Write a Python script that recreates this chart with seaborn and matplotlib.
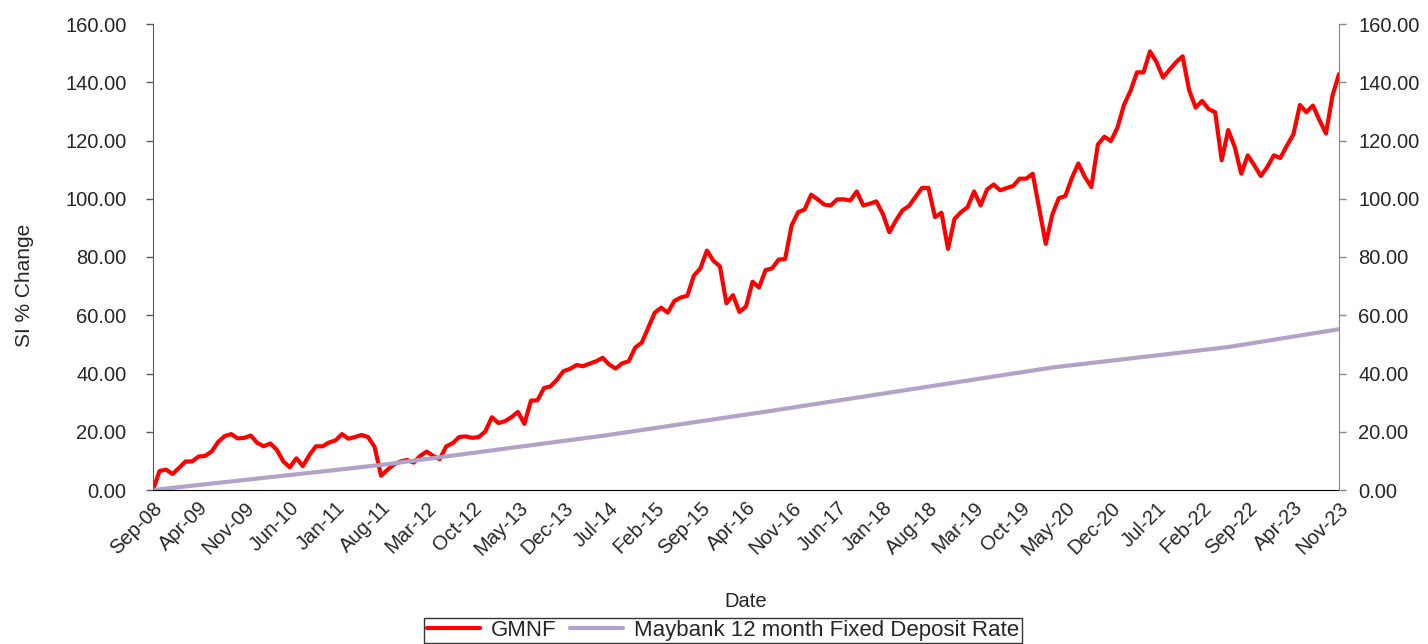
import numpy as np
import pandas as pd
import seaborn as sns
import matplotlib.pyplot as plt

# monthly observations, Sep-08 .. Nov-23
months = pd.date_range('2008-09-01', '2023-11-01', freq='MS')

gmnf = [0.0, 6.5, 7.0, 5.5, 7.6, 9.8, 9.8, 11.5, 11.7, 13.2, 16.5, 18.5, 19.2, 17.7, 17.9, 18.7,
        16.2, 15.0, 16.0, 13.8, 9.8, 7.8, 10.9, 8.2, 12.0, 15.0, 15.0, 16.3, 17.0, 19.2, 17.6,
        18.2, 18.9, 18.2, 14.8, 4.9,
        7.0, 8.8, 9.8, 10.3, 9.4, 11.7, 13.2, 11.7, 10.6, 15.0, 16.1, 18.2, 18.4, 17.9, 18.2,
        20.1, 25.0, 23.0, 23.6, 25.0, 26.8, 22.7, 30.7, 30.8, 35.0, 35.6, 37.9, 40.8, 41.6,
        42.9, 42.5, 43.4, 44.2, 45.4, 43.1, 41.7,
        43.5, 44.2, 48.9, 50.6, 55.7, 60.9, 62.6, 60.9, 64.9, 66.1, 66.7, 73.6, 76.1, 82.2,
        78.7, 76.8, 64.1, 66.9, 61.1, 63.0, 71.5, 69.5, 75.5, 76.1, 79.1, 79.3, 90.8, 95.4,
        96.3, 101.4, 99.8, 98.0, 97.7, 99.8, 99.8,
        99.4, 102.5, 97.7, 98.3, 99.1, 94.8, 88.5, 92.5, 96.0, 97.5, 100.6, 103.7, 103.7, 93.7,
        95.2, 82.8, 93.1, 95.4, 97.1, 102.5, 97.7, 103.2, 104.9, 102.9, 103.7, 104.4, 106.9,
        106.9, 108.6, 96.5, 84.5, 94.5, 100.2, 100.9, 107.1, 112.1, 107.5, 104.0,
        118.6, 121.3, 119.8, 124.4, 132.2, 137.0, 143.4, 143.4, 150.6, 146.9, 141.6, 144.3,
        146.9, 148.9, 137.3, 131.3, 133.6, 130.8, 129.7, 113.2, 123.6, 117.8, 108.6, 114.9,
        111.5, 107.8, 110.9, 114.9, 114.0, 118.2, 122.1, 132.2, 129.7, 132.0, 127.0, 122.4,
        135.4, 142.8]

fd_rate = [0.00, 0.25, 0.49, 0.74, 0.98, 1.23, 1.47, 1.72, 1.96, 2.21, 2.45, 2.70, 2.94, 3.19,
           3.43, 3.68, 3.92, 4.17, 4.41, 4.66, 4.90, 5.15, 5.39, 5.64, 5.88, 6.13, 6.37, 6.62,
           6.86, 7.11, 7.35, 7.60, 7.84, 8.09, 8.33, 8.58,
           8.88, 9.17, 9.47, 9.76, 10.06, 10.35, 10.65, 10.94, 11.24, 11.53, 11.83, 12.12,
           12.42, 12.71, 13.01, 13.30, 13.60, 13.89, 14.19, 14.48, 14.78, 15.07, 15.37, 15.66,
           15.96, 16.25, 16.55, 16.84, 17.14, 17.43, 17.73, 18.02, 18.32, 18.61,
           18.94, 19.27, 19.60, 19.93, 20.26, 20.59, 20.92, 21.25, 21.58, 21.91, 22.24, 22.57,
           22.90, 23.23, 23.56, 23.89, 24.22, 24.55, 24.88, 25.21, 25.54, 25.87, 26.20, 26.53,
           26.88, 27.22, 27.57, 27.91, 28.26, 28.60, 28.95, 29.29, 29.64, 29.98, 30.33, 30.67,
           31.02, 31.36, 31.71, 32.05, 32.40, 32.74, 33.09, 33.43, 33.78, 34.12, 34.47, 34.81,
           35.16, 35.50, 35.85, 36.19, 36.54, 36.88, 37.23, 37.57, 37.92, 38.26, 38.61, 38.95,
           39.30, 39.64, 39.99, 40.33, 40.68, 41.02, 41.37, 41.71, 42.06,
           42.32, 42.58, 42.84, 43.10, 43.36, 43.62, 43.88, 44.14, 44.40, 44.66, 44.92, 45.18,
           45.44, 45.70, 45.96, 46.22, 46.48, 46.74, 47.00, 47.26, 47.52, 47.78, 48.04, 48.30,
           48.56, 48.82, 49.08,
           49.44, 49.80, 50.16, 50.52, 50.88, 51.24, 51.60, 51.96, 52.32, 52.68, 53.04, 53.40,
           53.76, 54.12, 54.48, 54.84, 55.20]

tick_labels = ['Sep-08', 'Apr-09', 'Nov-09', 'Jun-10', 'Jan-11', 'Aug-11', 'Mar-12', 'Oct-12',
               'May-13', 'Dec-13', 'Jul-14', 'Feb-15', 'Sep-15', 'Apr-16', 'Nov-16', 'Jun-17',
               'Jan-18', 'Aug-18', 'Mar-19', 'Oct-19', 'May-20', 'Dec-20', 'Jul-21', 'Feb-22',
               'Sep-22', 'Apr-23', 'Nov-23']

series_names = ['GMNF', 'Maybank 12 month Fixed Deposit Rate']
colors = ['#FF0000', '#B3A2C7']

sns.set_style('white')
plt.rcParams['font.family'] = ['Liberation Sans', 'DejaVu Sans']

df = pd.DataFrame({'idx': np.arange(len(months)), series_names[0]: gmnf, series_names[1]: fd_rate})
long_df = df.melt(id_vars='idx', var_name='series', value_name='pct')

fig = plt.figure(figsize=(14.28, 6.44), dpi=100)
ax = fig.add_axes([153 / 1428, 1 - 490 / 644, 1186 / 1428, 466 / 644])

sns.lineplot(data=long_df, x='idx', y='pct', hue='series', hue_order=series_names,
             palette=colors, linewidth=3, ax=ax)

ax.set_xlim(0, len(months) - 1)
ax.set_ylim(0, 160)
yticks = np.arange(0, 161, 20)
ax.set_yticks(yticks)
ax.set_yticklabels([f'{v:.2f}' for v in yticks])
ax.set_xticks(np.arange(0, len(months), 7))
ax.set_xticklabels(tick_labels, rotation=45, ha='right', va='top', rotation_mode='anchor')

ax.tick_params(axis='y', length=5, width=1, color='#595959', labelsize=14.5, pad=14, left=True)
ax.tick_params(axis='x', length=0, labelsize=14.5, pad=6)

for side in ['top', 'right']:
    ax.spines[side].set_visible(False)
ax.spines['left'].set_color('#595959')
ax.spines['bottom'].set_color('black')

ax.set_xlabel('Date', fontsize=14.5)
ax.set_ylabel('SI % Change', fontsize=15)
ax.xaxis.set_label_coords(0.5, -0.219)
ax.yaxis.set_label_coords(-0.100, 0.44)

ax2 = ax.twinx()
ax2.set_ylim(0, 160)
ax2.set_yticks(yticks)
ax2.set_yticklabels([f'{v:.2f}' for v in yticks])
ax2.tick_params(axis='y', length=5, width=1, color='#888888', labelsize=14.5, pad=9, right=True)
for side in ['top', 'left', 'bottom']:
    ax2.spines[side].set_visible(False)
ax2.spines['right'].set_color('#888888')

handles, labels = ax.get_legend_handles_labels()
ax.get_legend().remove()
leg = fig.legend(handles, labels, loc='upper center', bbox_to_anchor=(723 / 1428, 1 - 618 / 644),
                 ncol=2, frameon=True, fancybox=False, edgecolor='black', fontsize=16,
                 handlelength=2.4, handletextpad=0.5, columnspacing=0.6, borderpad=0.1,
                 borderaxespad=0)
leg.get_frame().set_linewidth(1)

fig.savefig('out.png', dpi=100)
